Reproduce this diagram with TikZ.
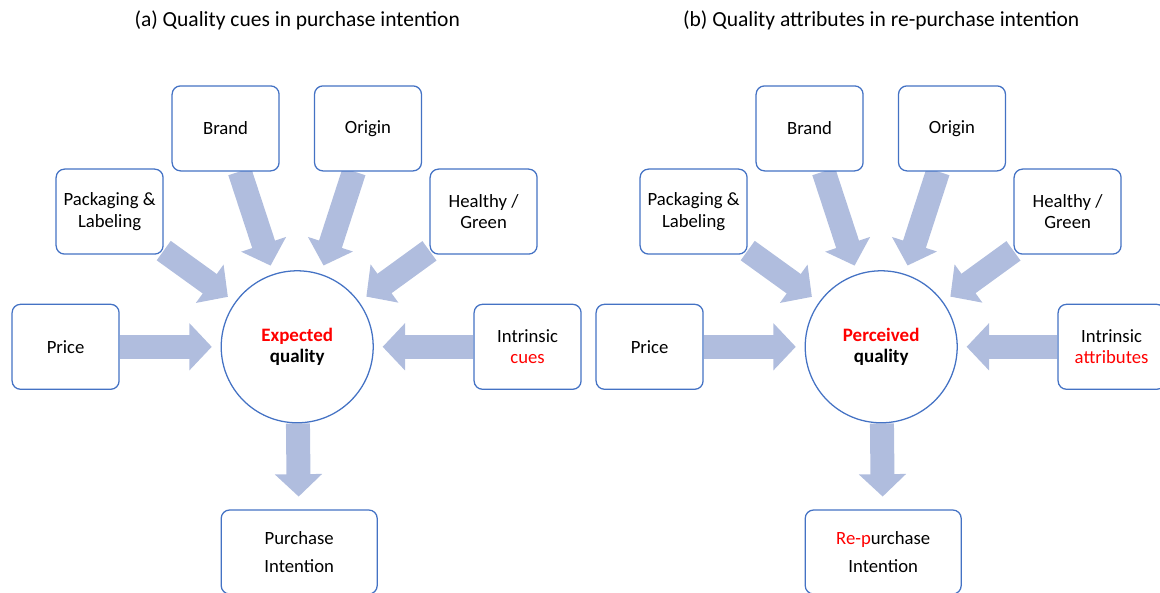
\documentclass[tikz,border=0pt]{standalone}
\usepackage{fontspec}
\setmainfont{Carlito}
\usetikzlibrary{arrows.meta, backgrounds}
\definecolor{boxblue}{RGB}{68,114,196}
\definecolor{flowblue}{RGB}{176,189,222}
\definecolor{cuered}{RGB}{255,0,0}

\begin{document}
\begin{tikzpicture}[
    cue/.style={draw=boxblue, fill=white, rounded corners=6pt, line width=0.9pt,
                minimum width=2.675cm, minimum height=2.125cm, align=center,
                font=\fontsize{13.3}{15}\selectfont},
    quality/.style={circle, draw=boxblue, fill=white, line width=0.9pt,
                    minimum size=3.8cm, align=center,
                    font=\fontsize{13.5}{15}\selectfont\bfseries},
    intent/.style={cue, minimum width=3.9cm, minimum height=2.1cm,
                   font=\fontsize{13.3}{20.5}\selectfont},
    caption/.style={font=\fontsize{15.3}{18}\selectfont},
    flow/.style={draw=flowblue, line width=0.6cm,
                 -{Triangle[length=0.56cm, width=1.15cm]}, shorten >=0.22cm}
  ]
    \useasboundingbox (0,0) rectangle (29,14.8);
    \clip (0,0) rectangle (29,14.8);

    % (a) purchase intention
    \node[caption] (capA) at (7.43,14.28) {(a) Quality cues in purchase intention};
    \node[quality] (expq) at (7.43,6.13) {\textcolor{cuered}{Expected}\\quality};
    \node[cue] (brandA)  at (5.64,11.59) {Brand};
    \node[cue] (originA) at (9.20,11.59) {Origin};
    \node[cue] (packA)   at (2.74,9.51)  {Packaging \&\\Labeling};
    \node[cue] (greenA)  at (12.09,9.51) {Healthy /\\Green};
    \node[cue] (priceA)  at (1.64,6.13)  {Price};
    \node[cue] (intrA)   at (13.19,6.13) {Intrinsic\\\textcolor{cuered}{cues}};
    \node[intent] (buyA) at (7.48,1.00)  {Purchase\\Intention};

    % (b) re-purchase intention
    \node[caption] (capB) at (22.03,14.28) {(b) Quality attributes in re-purchase intention};
    \node[quality] (perq) at (22.03,6.13) {\textcolor{cuered}{Perceived}\\quality};
    \node[cue] (brandB)  at (20.24,11.59) {Brand};
    \node[cue] (originB) at (23.80,11.59) {Origin};
    \node[cue] (packB)   at (17.34,9.51)  {Packaging \&\\Labeling};
    \node[cue] (greenB)  at (26.69,9.51)  {Healthy /\\Green};
    \node[cue] (priceB)  at (16.24,6.13)  {Price};
    \node[cue] (intrB)   at (27.79,6.13)  {Intrinsic\\\textcolor{cuered}{attributes}};
    \node[intent] (buyB) at (22.08,1.00)  {\textcolor{cuered}{Re-p}urchase\\Intention};

    % block arrows behind the boxes
    \begin{scope}[on background layer]
      \draw[flow] (brandA)  -- (expq);
      \draw[flow] (originA) -- (expq);
      \draw[flow] (packA)   -- (expq);
      \draw[flow] (greenA)  -- (expq);
      \draw[flow] (priceA)  -- (expq);
      \draw[flow] (intrA)   -- (expq);
      \draw[flow, shorten >=0.32cm] (expq) -- (buyA);

      \draw[flow] (brandB)  -- (perq);
      \draw[flow] (originB) -- (perq);
      \draw[flow] (packB)   -- (perq);
      \draw[flow] (greenB)  -- (perq);
      \draw[flow] (priceB)  -- (perq);
      \draw[flow] (intrB)   -- (perq);
      \draw[flow, shorten >=0.32cm] (perq) -- (buyB);
    \end{scope}
  \end{tikzpicture}
\end{document}
